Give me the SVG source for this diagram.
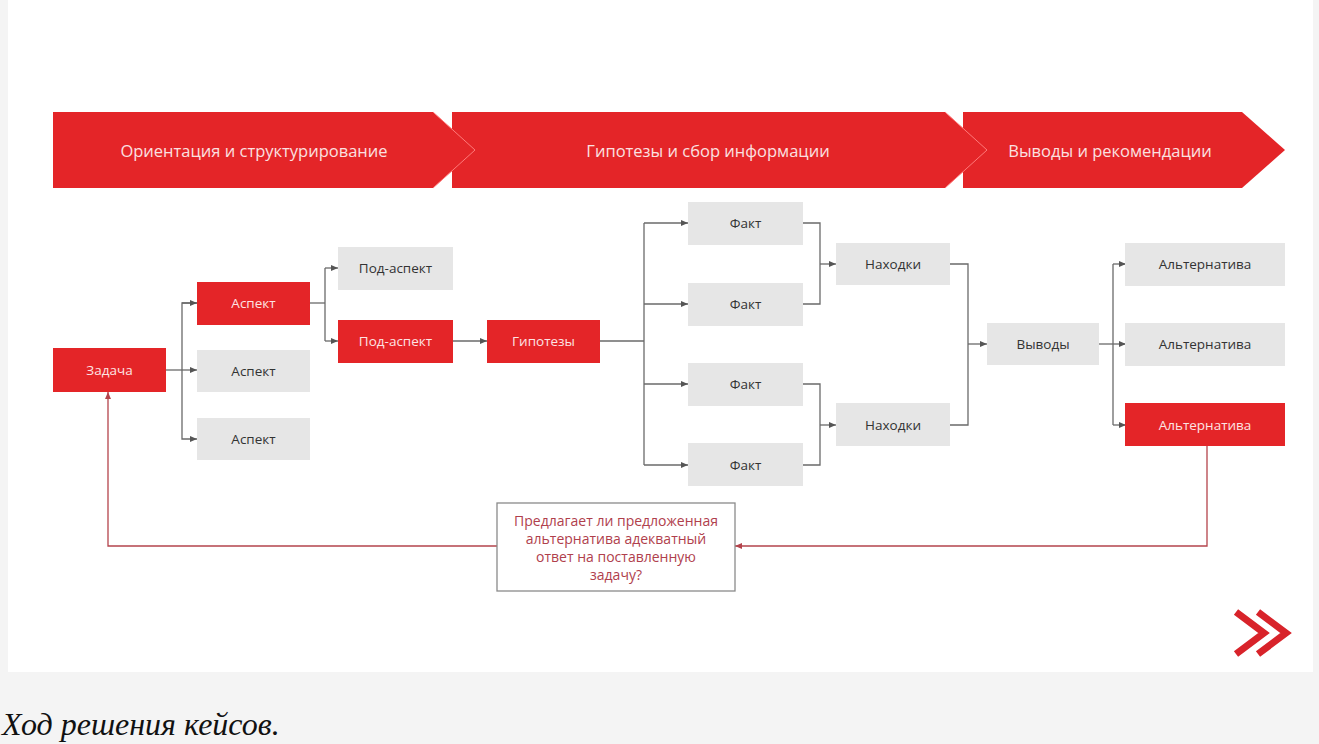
<svg xmlns="http://www.w3.org/2000/svg" width="1319" height="744" viewBox="0 0 1319 744">
<style>
.red{fill:#e42528}
.grey{fill:#e6e6e6}
.t{font-family:"Open Sans","Liberation Sans",sans-serif;font-size:13.5px;text-anchor:middle;dominant-baseline:central}
.tw{fill:#fde3e3}
.td{fill:#333}
.bt{font-family:"Open Sans","Liberation Sans",sans-serif;font-size:16.5px;text-anchor:middle;dominant-baseline:central;fill:#fbe0e0}
.c{fill:none;stroke:#6a6a6a;stroke-width:1.3}
.fb{fill:none;stroke:#b4444c;stroke-width:1.3}
.q{font-family:"Open Sans","Liberation Sans",sans-serif;font-size:14px;text-anchor:middle;fill:#b0404c}
</style>
<defs>
<marker id="ah" markerUnits="userSpaceOnUse" markerWidth="8" markerHeight="7" refX="7" refY="3.5" orient="auto">
<path d="M0,0.5 L7,3.5 L0,6.5 z" fill="#555"/>
</marker>
<marker id="ahr" markerUnits="userSpaceOnUse" markerWidth="8" markerHeight="7" refX="7" refY="3.5" orient="auto">
<path d="M0,0.5 L7,3.5 L0,6.5 z" fill="#b4444c"/>
</marker>
</defs>
<rect width="1319" height="744" fill="#f4f4f4"/>
<rect x="8" y="0" width="1305" height="672" fill="#ffffff"/>

<g id="banner3">
<polygon class="red" points="963,112 1242,112 1285,150 1242,188 963,188"/>
<text class="bt" x="1110" y="150">Выводы и рекомендации</text>
</g>
<g id="banner2">
<polygon class="red" points="452,112 945,112 987,150 945,188 452,188"/>
<polyline points="945,112 987,150 945,188" fill="none" stroke="#ff7a7a" stroke-width="1"/>
<text class="bt" x="708" y="150">Гипотезы и сбор информации</text>
</g>
<g id="banner1">
<polygon class="red" points="53,112 433,112 475,150 433,188 53,188"/>
<polyline points="433,112 475,150 433,188" fill="none" stroke="#ff7a7a" stroke-width="1"/>
<text class="bt" x="254" y="150">Ориентация и структурирование</text>
</g>

<g id="connectors">
<path class="c" d="M166,370 H197" marker-end="url(#ah)"/>
<path class="c" d="M197,303 H182 V439 H197" marker-end="url(#ah)"/>
<path class="c" d="M182,303 H197" marker-end="url(#ah)"/>
<path class="c" d="M310,303 H325"/>
<path class="c" d="M325,268 V341"/>
<path class="c" d="M325,268 H338" marker-end="url(#ah)"/>
<path class="c" d="M325,341 H338" marker-end="url(#ah)"/>
<path class="c" d="M453,341 H487" marker-end="url(#ah)"/>
<path class="c" d="M600,341 H644"/>
<path class="c" d="M644,223 V465"/>
<path class="c" d="M644,223 H688" marker-end="url(#ah)"/>
<path class="c" d="M644,304 H688" marker-end="url(#ah)"/>
<path class="c" d="M644,384 H688" marker-end="url(#ah)"/>
<path class="c" d="M644,465 H688" marker-end="url(#ah)"/>
<path class="c" d="M803,223 H820 V304 H803"/>
<path class="c" d="M820,264 H836" marker-end="url(#ah)"/>
<path class="c" d="M803,384 H820 V465 H803"/>
<path class="c" d="M820,425 H836" marker-end="url(#ah)"/>
<path class="c" d="M950,264 H968 V425 H950"/>
<path class="c" d="M968,344 H987" marker-end="url(#ah)"/>
<path class="c" d="M1099,344 H1126" marker-end="url(#ah)"/>
<path class="c" d="M1113,264 V425"/>
<path class="c" d="M1113,264 H1126" marker-end="url(#ah)"/>
<path class="c" d="M1113,425 H1126" marker-end="url(#ah)"/>
<path class="fb" d="M1207,446 V546 H735" marker-end="url(#ahr)"/>
<path class="fb" d="M497,546 H108 V392" marker-end="url(#ahr)"/>
</g>

<g id="zadacha"><rect class="red" x="53" y="348" width="113" height="44"/><text class="t tw" x="109.5" y="370">Задача</text></g>
<g id="aspect1"><rect class="red" x="197" y="282" width="113" height="43"/><text class="t tw" x="253.5" y="303">Аспект</text></g>
<g id="aspect2"><rect class="grey" x="197" y="350" width="113" height="42"/><text class="t td" x="253.5" y="371">Аспект</text></g>
<g id="aspect3"><rect class="grey" x="197" y="418" width="113" height="42"/><text class="t td" x="253.5" y="439">Аспект</text></g>
<g id="subaspect1"><rect class="grey" x="338" y="247" width="115" height="43"/><text class="t td" x="395.5" y="268">Под-аспект</text></g>
<g id="subaspect2"><rect class="red" x="338" y="320" width="115" height="43"/><text class="t tw" x="395.5" y="341">Под-аспект</text></g>
<g id="hypotheses"><rect class="red" x="487" y="320" width="113" height="43"/><text class="t tw" x="543.5" y="341">Гипотезы</text></g>
<g id="fact1"><rect class="grey" x="688" y="202" width="115" height="43"/><text class="t td" x="745.5" y="223">Факт</text></g>
<g id="fact2"><rect class="grey" x="688" y="283" width="115" height="43"/><text class="t td" x="745.5" y="304">Факт</text></g>
<g id="fact3"><rect class="grey" x="688" y="363" width="115" height="43"/><text class="t td" x="745.5" y="384">Факт</text></g>
<g id="fact4"><rect class="grey" x="688" y="443" width="115" height="43"/><text class="t td" x="745.5" y="465">Факт</text></g>
<g id="findings1"><rect class="grey" x="836" y="243" width="114" height="42"/><text class="t td" x="893" y="264">Находки</text></g>
<g id="findings2"><rect class="grey" x="836" y="403" width="114" height="43"/><text class="t td" x="893" y="425">Находки</text></g>
<g id="conclusions"><rect class="grey" x="987" y="323" width="112" height="42"/><text class="t td" x="1043" y="344">Выводы</text></g>
<g id="alt1"><rect class="grey" x="1125" y="243" width="160" height="43"/><text class="t td" x="1205" y="264">Альтернатива</text></g>
<g id="alt2"><rect class="grey" x="1125" y="323" width="160" height="43"/><text class="t td" x="1205" y="344">Альтернатива</text></g>
<g id="alt3"><rect class="red" x="1125" y="403" width="160" height="43"/><text class="t tw" x="1205" y="425">Альтернатива</text></g>

<g id="question">
<rect x="497" y="503" width="238" height="88" fill="#ffffff" stroke="#8a8a8a" stroke-width="1.3"/>
<text class="q" x="616" y="526">Предлагает ли предложенная</text>
<text class="q" x="616" y="544">альтернатива  адекватный</text>
<text class="q" x="616" y="562">ответ на поставленную</text>
<text class="q" x="616" y="580">задачу?</text>
</g>

<g id="next-icon" fill="none" stroke="#d8232a" stroke-width="7" stroke-linejoin="miter">
<polyline points="1236,612 1264,633 1236,654"/>
<polyline points="1258,612 1286,633 1258,654"/>
</g>

<text x="2" y="735" font-family="Liberation Serif, serif" font-style="italic" font-size="32" fill="#111">Ход решения кейсов.</text>
</svg>
